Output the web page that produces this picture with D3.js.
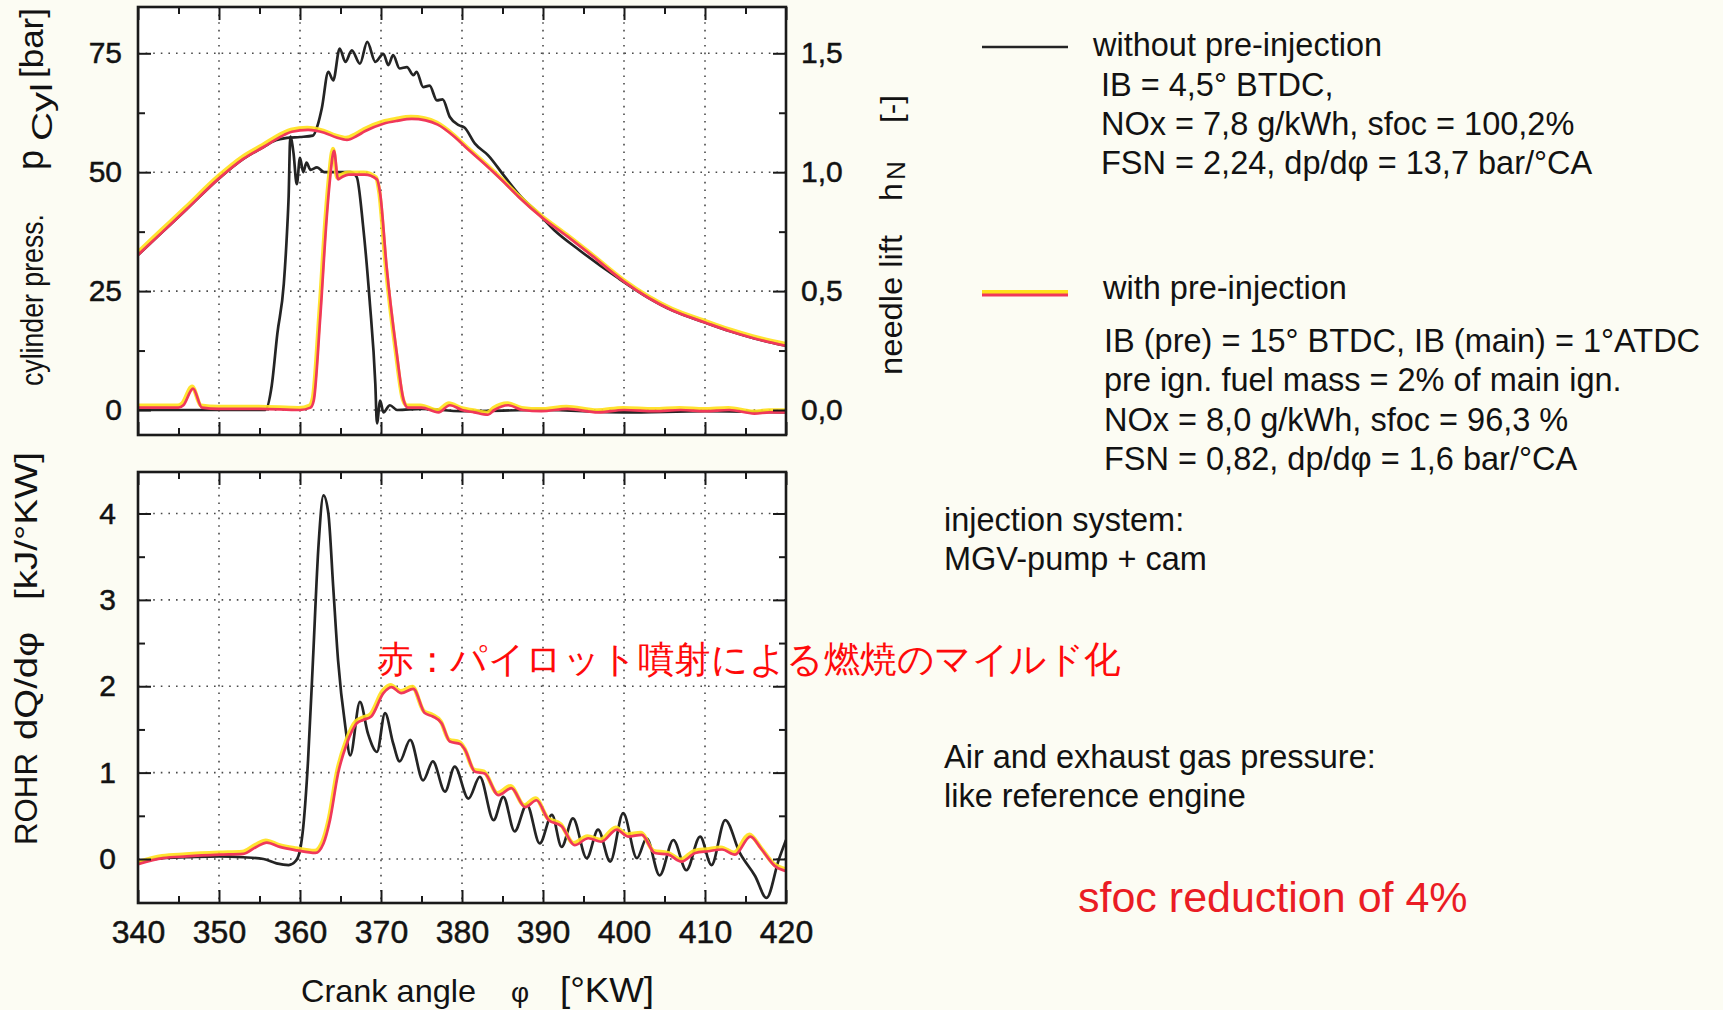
<!DOCTYPE html>
<html><head><meta charset="utf-8">
<script src="https://cdn.jsdelivr.net/npm/d3@7"></script>
<style>
html,body{margin:0;padding:0;background:#fcfcf3;}
svg{display:block;}
text{font-family:"Liberation Sans",Arial,sans-serif;fill:#121212;}
</style></head><body>
<svg id="chart" width="1723" height="1010"></svg>
<script>
// ---------------- DATA ----------------
const angleMajorTicks = [340,350,360,370,380,390,400,410,420];
const angleTickLabels = ["340","350","360","370","380","390","400","410","420"];
const angleMinorTicks = [345,355,365,375,385,395,405,415];
const pressureTicks = [0,25,50,75];
const pressureTickLabels = ["0","25","50","75"];
const pressureMinorTicks = [12.5,37.5,62.5];
const liftTicks = [0,0.5,1.0,1.5];
const liftTickLabels = ["0,0","0,5","1,0","1,5"];
const liftMinorTicks = [0.25,0.75,1.25];
const rohrTicks = [0,1,2,3,4];
const rohrTickLabels = ["0","1","2","3","4"];
const rohrMinorTicks = [0.5,1.5,2.5,3.5];

// cylinder pressure [bar] vs crank angle [°KW]
const pressureWithPre = [[340,32.6],[343,37.4],[346,42.2],[350,48.7],[353,52.8],[355.5,55.3],[358,57.8],[359,58.5],[361,58.9],[363,58.3],[364.5,57.3],[365.8,56.8],[367,57.6],[368,58.6],[370.3,60.2],[372,60.8],[373.8,61.2],[375.5,60.9],[377,60.0],[379.1,57.4],[380.5,55.2],[383.2,51.1],[385,48.2],[387,44.8],[390,40.3],[393,36.5],[396,32.5],[400,27.0],[403,23.6],[406,20.9],[410,18.4],[413,16.6],[416,15.1],[420,13.5]];
const pressureWithoutPre = [[340,32.6],[343,37.4],[346,42.2],[350,48.7],[353,52.8],[355.5,55.3],[357,56.7],[358.4,57.2],[360,57.4],[361.6,57.7],[362.2,60],[362.7,63.5],[363.5,71.1],[364.1,69.3],[364.9,76],[365.6,73.2],[366.4,75.6],[367.4,72.8],[368.3,77.4],[369.3,73.2],[370.3,74.9],[370.9,72.5],[371.5,74.6],[372.3,71.8],[373.2,72.1],[374,70.4],[374.4,71.1],[375.2,67.9],[376,68.2],[376.9,65.1],[377.6,65.3],[378.5,61.6],[379.6,59.9],[380.3,59.4],[381.6,56],[383.2,53.6],[385.3,49],[387.3,44.8],[389.2,41.7],[391.4,37.8],[394.5,33.6],[399.3,27.7],[403,23.6],[406,20.9],[410,18.4],[413,16.6],[416,15.1],[420,13.5]];

// needle lift h_N [-]
const liftWithoutPre = [[340,0],[350,0],[355.7,0],[356.5,0.1],[357.2,0.32],[358,0.53],[358.4,0.75],[358.6,0.9],[358.8,1.15],[359.2,1.08],[359.6,0.95],[360,1.06],[360.4,1.0],[360.8,1.04],[361.3,1.01],[362.1,1.02],[363,1.0],[364.5,1.0],[366.2,1.0],[367,0.98],[367.8,0.77],[368.6,0.46],[369.3,0.11],[369.5,-0.056],[369.9,0.04],[370.3,-0.01],[371.1,0.02],[372,0],[375,0.005],[380,-0.005],[390,0],[400,-0.01],[410,-0.005],[420,-0.01]];
const liftWithPre = [[340,0.01],[345,0.01],[345.6,0.02],[346.8,0.09],[347.9,0.01],[350,0.005],[355,0.005],[360,0.0],[361.3,0.01],[361.7,0.04],[362.5,0.39],[363.3,0.81],[363.7,0.97],[364.2,1.09],[364.7,0.97],[365.2,0.98],[366,0.99],[368,0.99],[369.5,0.97],[369.9,0.91],[370.7,0.6],[371.9,0.25],[372.8,0.04],[373.3,0.01],[375,0.01],[377.1,-0.01],[378.5,0.02],[380,0.0],[381.5,-0.01],[383.2,-0.02],[384,0.0],[385.7,0.02],[387.5,0.0],[389.8,-0.005],[393,0.005],[396.8,-0.01],[400,0.0],[403.8,-0.005],[407,0.0],[410,-0.005],[413,0.0],[416.1,-0.015],[418,-0.01],[420,-0.01]];

// rate of heat release dQ/dφ [kJ/°KW]
const rohrWithoutPre = [[340,-0.03],[343,0.01],[346,0.02],[350,0.03],[353,0.02],[355.5,0.0],[357.1,-0.05],[358.6,-0.07],[359.5,-0.02],[360,0.1],[360.4,0.37],[361,1.15],[361.6,2.3],[362.3,3.65],[362.9,4.21],[363.5,4.0],[364.1,3.15],[364.7,2.3],[365.6,1.53],[366.2,1.2],[367.4,1.82],[368.4,1.45],[369.5,1.24],[370.5,1.69],[371.5,1.34],[372.3,1.13],[373.6,1.38],[375.2,0.91],[376.4,1.13],[377.9,0.78],[379.1,1.07],[380.8,0.70],[382.2,0.95],[383.9,0.45],[385.1,0.72],[386.5,0.32],[388,0.63],[389.6,0.18],[391.1,0.51],[392.3,0.14],[393.7,0.47],[395.4,0.01],[396.8,0.34],[398.3,-0.03],[399.9,0.53],[401.6,0.01],[402.8,0.24],[404.4,-0.19],[406.1,0.22],[407.7,-0.13],[409.4,0.26],[410.8,-0.07],[412.5,0.45],[414.3,0.07],[416.2,-0.2],[417.6,-0.45],[419.1,-0.01],[420,0.22]];
const rohrWithPre = [[340,-0.06],[343.1,0.01],[346,0.03],[350.1,0.05],[353,0.06],[354.6,0.14],[355.9,0.19],[357.5,0.14],[359.6,0.1],[361.9,0.07],[362.9,0.18],[363.7,0.45],[364.7,0.99],[365.8,1.34],[367,1.57],[367.8,1.61],[368.8,1.65],[370.3,1.92],[371.3,1.99],[372.5,1.92],[374,1.97],[375.4,1.69],[376.4,1.65],[377.5,1.57],[378.5,1.36],[379.8,1.33],[380.4,1.26],[381.6,1.01],[382.8,0.99],[384.5,0.74],[386.1,0.82],[387.8,0.60],[389.2,0.68],[390.7,0.45],[392.3,0.38],[393.9,0.16],[395.6,0.24],[397.2,0.20],[399.1,0.34],[400.5,0.26],[402.2,0.28],[403.8,0.07],[405.5,0.05],[407.1,-0.03],[408.8,0.07],[410.4,0.09],[412.1,0.11],[413.7,0.05],[415.6,0.26],[417,0.11],[418.6,-0.08],[420,-0.14]];

// texts
const legendNoPreTitle = "without pre-injection";
const legendNoPreLines = ["IB = 4,5° BTDC,","NOx = 7,8 g/kWh, sfoc = 100,2%","FSN = 2,24, dp/dφ = 13,7 bar/°CA"];
const legendPreTitle = "with pre-injection";
const legendPreLines = ["IB (pre) = 15° BTDC, IB (main) = 1°ATDC","pre ign. fuel mass = 2% of main ign.","NOx = 8,0 g/kWh, sfoc = 96,3 %","FSN = 0,82, dp/dφ = 1,6 bar/°CA"];
const injectionLines = ["injection system:","MGV-pump + cam"];
const airLines = ["Air and exhaust gas pressure:","like reference engine"];
const sfocNote = "sfoc reduction of 4%";
const jpNote = "赤：パイロット噴射による燃焼のマイルド化";

// ---------------- LAYOUT ----------------
const svg = d3.select("#chart");
const L = 138, R = 786;
const top1 = 7, bot1 = 435, top2 = 472, bot2 = 903;

const x = d3.scaleLinear().domain([340,420]).range([L,R]);
const yP = d3.scaleLinear().domain([0,75]).range([410,53.3]);
const yN = d3.scaleLinear().domain([0,1.5]).range([410,53.3]);
const yQ = d3.scaleLinear().domain([0,4]).range([859,513.5]);

const BLACK = "#242424", RED = "#f0385a", YEL = "#ffe01a";

const defs = svg.append("defs");
defs.append("clipPath").attr("id","c1").append("rect").attr("x",L).attr("y",top1).attr("width",R-L).attr("height",bot1-top1);
defs.append("clipPath").attr("id","c2").append("rect").attr("x",L).attr("y",top2).attr("width",R-L).attr("height",bot2-top2);

function panel(top, bot, yScale, yMajor){
  const g = svg.append("g");
  g.append("rect").attr("x",L).attr("y",top).attr("width",R-L).attr("height",bot-top).attr("fill","#ffffff");
  const gg = g.append("g").attr("stroke","#4a4a4a").attr("stroke-width",1.6).attr("stroke-dasharray","1.6,6").attr("fill","none");
  angleMajorTicks.slice(1,-1).forEach(a=>{
    gg.append("line").attr("x1",x(a)).attr("x2",x(a)).attr("y1",top).attr("y2",bot);
  });
  yMajor.forEach(v=>{
    gg.append("line").attr("x1",L).attr("x2",R).attr("y1",yScale(v)).attr("y2",yScale(v));
  });
  return g;
}

const g1 = panel(top1, bot1, yP, pressureTicks);
const g2 = panel(top2, bot2, yQ, rohrTicks);

function styleAxis(sel, fs){
  sel.select(".domain").remove();
  sel.selectAll(".tick line").attr("stroke","#1a1a1a").attr("stroke-width",2);
  sel.selectAll(".tick text").attr("font-size",fs).attr("font-family","'Liberation Sans',Arial,sans-serif")
    .attr("fill","#161616").attr("stroke","#161616").attr("stroke-width",0.5);
}
function ticksOnly(axis, tx, ty, vals, size){
  const a = svg.append("g").attr("transform",`translate(${tx},${ty})`)
    .call(axis.tickValues(vals).tickSize(-size).tickFormat(""));
  styleAxis(a, 10);
  return a;
}

// top panel axes
const aL1 = svg.append("g").attr("transform",`translate(${L},0)`)
  .call(d3.axisLeft(yP).tickValues(pressureTicks).tickSize(-13).tickPadding(16).tickFormat((d,i)=>pressureTickLabels[i]));
styleAxis(aL1, 30);
ticksOnly(d3.axisLeft(yP), L, 0, pressureMinorTicks, 7);
const aR1 = svg.append("g").attr("transform",`translate(${R},0)`)
  .call(d3.axisRight(yN).tickValues(liftTicks).tickSize(-13).tickPadding(15).tickFormat((d,i)=>liftTickLabels[i]));
styleAxis(aR1, 30);
ticksOnly(d3.axisRight(yN), R, 0, liftMinorTicks, 7);
ticksOnly(d3.axisTop(x), 0, top1, angleMajorTicks, 13);
ticksOnly(d3.axisTop(x), 0, top1, angleMinorTicks, 7);
ticksOnly(d3.axisBottom(x), 0, bot1, angleMajorTicks, 13);
ticksOnly(d3.axisBottom(x), 0, bot1, angleMinorTicks, 7);

// bottom panel axes
const aL2 = svg.append("g").attr("transform",`translate(${L},0)`)
  .call(d3.axisLeft(yQ).tickValues(rohrTicks).tickSize(-13).tickPadding(22).tickFormat((d,i)=>rohrTickLabels[i]));
styleAxis(aL2, 30);
ticksOnly(d3.axisLeft(yQ), L, 0, rohrMinorTicks, 7);
ticksOnly(d3.axisRight(yQ), R, 0, rohrTicks, 13);
ticksOnly(d3.axisRight(yQ), R, 0, rohrMinorTicks, 7);
ticksOnly(d3.axisTop(x), 0, top2, angleMajorTicks, 13);
ticksOnly(d3.axisTop(x), 0, top2, angleMinorTicks, 7);
const aB2 = svg.append("g").attr("transform",`translate(0,${bot2})`)
  .call(d3.axisBottom(x).tickValues(angleMajorTicks).tickSize(-13).tickPadding(17).tickFormat((d,i)=>angleTickLabels[i]));
styleAxis(aB2, 32);
ticksOnly(d3.axisBottom(x), 0, bot2, angleMinorTicks, 7);

// curves
function drawPair(parent, clipId, yScale, dataBlack, dataRed){
  const line = d3.line().x(d=>x(d[0])).y(d=>yScale(d[1])).curve(d3.curveMonotoneX);
  const g = parent.append("g").attr("clip-path",`url(#${clipId})`).attr("fill","none").attr("stroke-linejoin","round");
  g.append("path").datum(dataBlack).attr("d",line).attr("stroke",BLACK).attr("stroke-width",2.7);
  g.append("path").datum(dataRed).attr("d",line).attr("stroke",YEL).attr("stroke-width",4.2).attr("transform","translate(-1,-2)").attr("opacity",0.9);
  g.append("path").datum(dataRed).attr("d",line).attr("stroke",RED).attr("stroke-width",2.7);
}
drawPair(g1, "c1", yP, pressureWithoutPre, pressureWithPre);
drawPair(g1, "c1", yN, liftWithoutPre, liftWithPre);
drawPair(g2, "c2", yQ, rohrWithoutPre, rohrWithPre);

// frames
[[top1,bot1],[top2,bot2]].forEach(([t,b])=>{
  svg.append("rect").attr("x",L).attr("y",t).attr("width",R-L).attr("height",b-t)
    .attr("fill","none").attr("stroke","#1a1a1a").attr("stroke-width",2.6);
});

// axis titles
function vtext(txt, bx, by, fs, len){
  const t = svg.append("text").attr("transform",`translate(${bx},${by}) rotate(-90)`)
    .attr("font-size",fs).attr("text-anchor","start").text(txt);
  if(len) t.attr("textLength",len).attr("lengthAdjust","spacingAndGlyphs");
  return t;
}
vtext("cylinder press.", 43, 386, 31, 172);
vtext("p", 43, 170, 36);
vtext("Cyl", 52, 141, 30, 58);
vtext("[bar]", 43, 78, 34, 70);

vtext("needle lift", 902, 375, 32, 140);
vtext("h", 902, 201, 32);
vtext("N", 905, 180, 26);
vtext("[-]", 902, 123, 30, 28);

vtext("ROHR", 37, 845, 32, 92);
vtext("dQ/dφ", 37, 740, 32, 108);
vtext("[kJ/°KW]", 37, 600, 32, 148);

svg.append("text").attr("x",301).attr("y",1002).attr("font-size",32).attr("textLength",175).attr("lengthAdjust","spacingAndGlyphs").text("Crank angle");
svg.append("text").attr("x",520).attr("y",1002).attr("font-size",28).attr("text-anchor","middle").text("φ");
svg.append("text").attr("x",560).attr("y",1002).attr("font-size",35).attr("textLength",94).attr("lengthAdjust","spacingAndGlyphs").text("[°KW]");

// legend
const FS = 32.5;
svg.append("line").attr("x1",982).attr("x2",1068).attr("y1",47).attr("y2",47).attr("stroke",BLACK).attr("stroke-width",2.5);
svg.append("text").attr("x",1093).attr("y",56).attr("font-size",FS).text(legendNoPreTitle);
legendNoPreLines.forEach((s,i)=>svg.append("text").attr("x",1101).attr("y",96+i*39).attr("font-size",FS).text(s));
svg.append("line").attr("x1",982).attr("x2",1068).attr("y1",292).attr("y2",292).attr("stroke",YEL).attr("stroke-width",4);
svg.append("line").attr("x1",982).attr("x2",1068).attr("y1",295).attr("y2",295).attr("stroke",RED).attr("stroke-width",2.8);
svg.append("text").attr("x",1103).attr("y",299).attr("font-size",FS).text(legendPreTitle);
legendPreLines.forEach((s,i)=>svg.append("text").attr("x",1104).attr("y",352+i*39.3).attr("font-size",FS).text(s));
injectionLines.forEach((s,i)=>svg.append("text").attr("x",944).attr("y",531+i*39).attr("font-size",FS).text(s));
airLines.forEach((s,i)=>svg.append("text").attr("x",944).attr("y",768+i*39).attr("font-size",FS).text(s));
svg.append("text").attr("x",1078).attr("y",912).attr("font-size",43).style("fill","#ea1c24").text(sfocNote);

// Japanese annotation
svg.append("text").attr("x",377).attr("y",659).attr("dominant-baseline","central")
  .attr("font-family","'Noto Sans CJK JP',sans-serif").attr("font-size",37).attr("font-weight",300)
  .attr("textLength",744).attr("lengthAdjust","spacingAndGlyphs")
  .style("fill","#ff0a0a").text(jpNote);
</script>
</body></html>
